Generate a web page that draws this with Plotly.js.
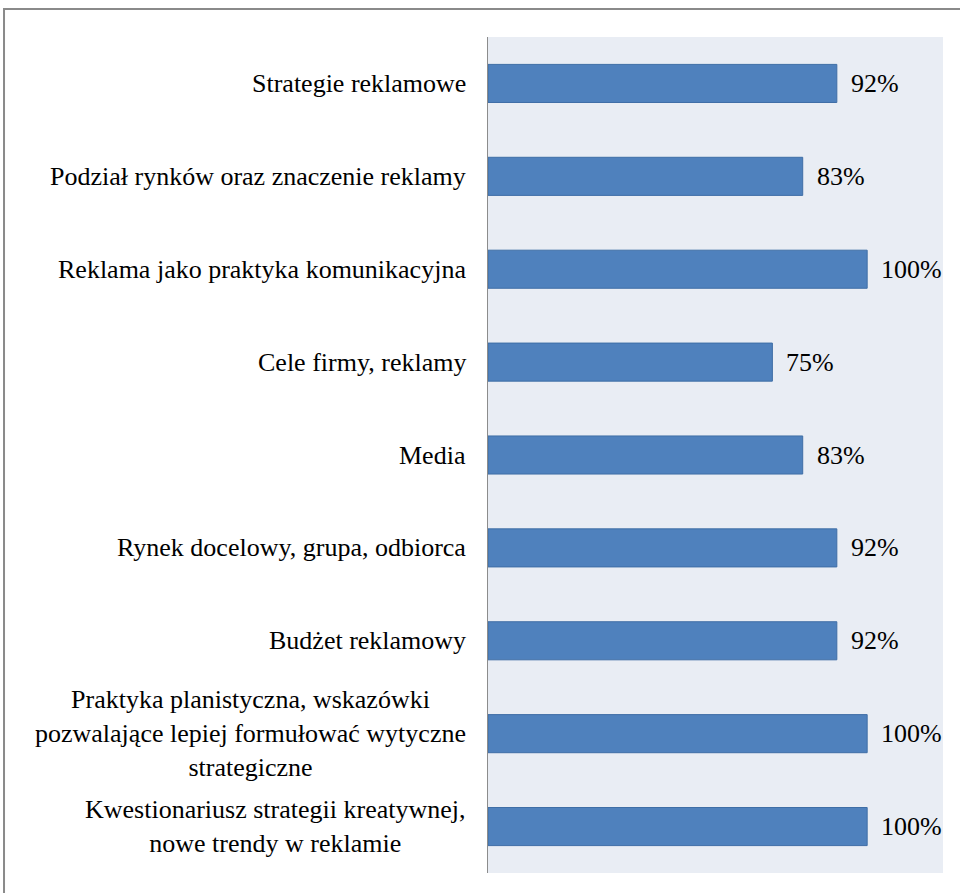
<!DOCTYPE html>
<html>
<head>
<meta charset="utf-8">
<script src="https://cdn.plot.ly/plotly-3.0.1.min.js"></script>
<style>html,body{margin:0;padding:0;background:#fff;}#chart{width:960px;height:893px;}</style>
</head>
<body>
<div id="chart"></div>
<script>
const categories = [
  "Strategie reklamowe",
  "Podział rynków oraz znaczenie reklamy",
  "Reklama jako praktyka komunikacyjna",
  "Cele firmy, reklamy",
  "Media",
  "Rynek docelowy, grupa, odbiorca",
  "Budżet reklamowy",
  "Praktyka planistyczna, wskazówki<br>pozwalające lepiej formułować wytyczne<br>strategiczne",
  "Kwestionariusz strategii kreatywnej,<br>nowe trendy w reklamie"
];
const values = [92, 83, 100, 75, 83, 92, 92, 100, 100];
const valueLabels = values.map(v => v + "%");

const FONT = "Liberation Serif";

const trace = {
  type: "bar",
  orientation: "h",
  y: categories,
  x: values,
  width: 0.41,
  marker: {color: "#4F81BD", line: {color: "#3F6EA6", width: 1}},
  hoverinfo: "none"
};

const annotations = [];
categories.forEach((c, i) => {
  annotations.push({
    xref: "paper", yref: "y", x: 0, y: c,
    xanchor: "right", yanchor: "middle", xshift: -20,
    text: c, align: "center", showarrow: false,
    font: {family: FONT, size: 26, color: "#000"}
  });
  annotations.push({
    xref: "x", yref: "y", x: values[i], y: c,
    xanchor: "left", yanchor: "middle", xshift: 12,
    text: valueLabels[i], showarrow: false,
    font: {family: FONT, size: 26, color: "#000"}
  });
});

const layout = {
  width: 960, height: 893,
  margin: {l: 488, r: 17, t: 37, b: 20, pad: 0},
  paper_bgcolor: "#ffffff",
  plot_bgcolor: "#E9EDF4",
  showlegend: false,
  font: {family: FONT},
  xaxis: {range: [0, 120], showgrid: false, zeroline: false, showline: false, showticklabels: false, ticks: ""},
  yaxis: {autorange: "reversed", showgrid: false, zeroline: false, showline: true, linecolor: "#8c8c8c", linewidth: 1.5, showticklabels: false, ticks: ""},
  annotations: annotations,
  shapes: [{
    type: "rect", xref: "paper", yref: "paper",
    x0: -1.0637, x1: 1.2, y0: -0.2, y1: 1.0335,
    line: {color: "#8a8a8a", width: 2}, fillcolor: "rgba(0,0,0,0)", layer: "below"
  }]
};

Plotly.newPlot("chart", [trace], layout, {displayModeBar: false, staticPlot: true});
</script>
</body>
</html>
